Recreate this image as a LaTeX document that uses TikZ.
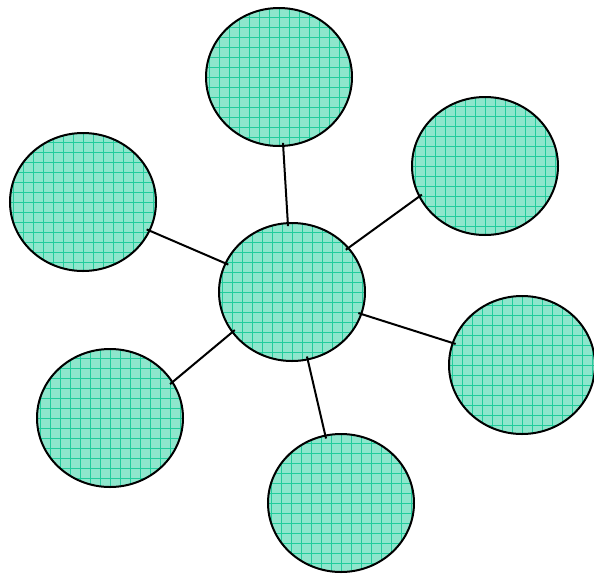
\documentclass[tikz,border=0pt]{standalone}
\usetikzlibrary{shapes.geometric}
\definecolor{bubblefill}{HTML}{8EE6CC}
\definecolor{gridline}{HTML}{22CC9C}
\tikzset{
  bubble/.style={ellipse, draw=black, line width=2pt, fill=bubblefill,
    minimum width=146pt, minimum height=138pt, inner sep=0pt,
    path picture={\draw[gridline, line width=0.6pt]
      ([xshift=-5pt,yshift=-5pt]path picture bounding box.south west) grid[step=10pt]
      ([xshift=5pt,yshift=5pt]path picture bounding box.north east);}},
  link/.style={draw=black, line width=2pt, shorten <=-4pt, shorten >=-4pt}
}
\begin{document}
\begin{tikzpicture}[x=1pt,y=-1pt]
\useasboundingbox (0,0) rectangle (594,576);
\node[bubble] (c)  at (292,292) {};
\node[bubble] (t)  at (279,77) {};
\node[bubble] (ur) at (485,166) {};
\node[bubble] (l)  at (83,202) {};
\node[bubble] (r)  at (522,365) {};
\node[bubble] (ll) at (110,418) {};
\node[bubble] (b)  at (341,503) {};
\path[link] (c) -- (t);
\path[link] (c.38) -- (ur.205);
\path[link] (c) -- (l);
\path[link] (c) -- (r);
\path[link] (c.214) -- (ll.30);
\path[link] (c) -- (b);
\end{tikzpicture}
\end{document}
